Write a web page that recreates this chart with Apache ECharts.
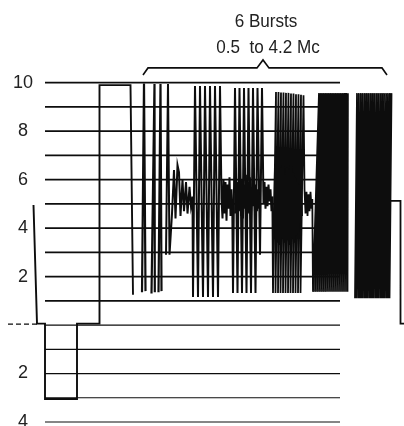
<!DOCTYPE html>
<html><head><meta charset="utf-8">
<script src="https://cdn.jsdelivr.net/npm/echarts/dist/echarts.min.js"></script>
<style>html,body{margin:0;padding:0;background:#fff}#c{width:404px;height:426px}</style>
</head><body><div id="c"></div><script>
// ---- data (time units along the line, signal level in IRE/10) ----
const tickValues = [10, 8, 6, 4, 2, -2, -4];
const tickLabels = ['10', '8', '6', '4', '2', '2', '4'];
const gridLevelsUpper = [10, 9, 8, 7, 6, 5, 4, 3, 2, 1];
const gridLevelsLower = [0, -1, -2, -3, -4];
const gridSpan = [45, 340];
const zeroLead = [[8, 0.04], [37, 0.04]];
const titleLines = ['6 Bursts', '0.5  to 4.2 Mc'];
const bracket = [[143, 10.32], [148, 10.61], [257, 10.61], [263, 10.94], [269, 10.61], [382, 10.61], [387, 10.32]];

const leadIn = [[33.5, 4.95], [37, 0.06], [45, 0.06], [45, -3.05], [77, -3.05], [77, 0.06], [99.5, 0.06], [99.5, 9.9], [130.5, 9.9], [133, 1.25]];
const b1s2 = [[142, 1.35], [144, 9.97], [145.5, 1.4]];
const b1s3 = [[151.5, 1.3], [154.5, 9.95], [154.8, 1.35]];
const b1s4 = [[158.5, 1.35], [160.5, 9.95], [161.5, 1.4]];
const b1s5 = [[166, 2.9], [168, 9.95], [169.5, 2.9]];
const wiggle1 = [[172, 4.6], [174, 6.4], [175.5, 4.4], [177.5, 6.6], [179, 6.3], [180.5, 4.5], [182.5, 6.0], [184, 4.7], [186, 5.9], [187.5, 4.6], [189.5, 5.7], [191, 4.9], [192.5, 5.3]];
const burst2 = [[193, 1.16], [195, 9.86], [198, 1.16], [200, 9.86], [203, 1.16], [205, 9.86], [208, 1.16], [210, 9.86], [213, 1.16], [215, 9.86], [218, 1.16], [220, 9.86]];
const noise2 = [[221.5, 5.2], [222.5, 4.4], [223.5, 6.0], [224.5, 4.6], [225.5, 5.9], [226.5, 4.3], [227.5, 5.8], [228.5, 4.8], [229.5, 6.1], [230.5, 4.5], [231.5, 5.6], [232.3, 4.8]];
const burst3 = [[233, 1.32], [235, 9.78], [237.5, 1.32], [239.5, 9.78], [242, 1.32], [244, 9.78], [246.5, 1.32], [248.5, 9.78], [251, 1.32], [253, 9.78], [255.5, 1.32], [257.5, 9.78], [260, 2.9], [262, 9.78]];
const noise3 = [[263.5, 5.0], [264.5, 5.9], [265.5, 4.8], [266.5, 5.7], [267.5, 4.9], [268.5, 5.8], [269.5, 5.1], [270.5, 5.6], [271.5, 4.7], [272.3, 5.3]];
const burst4 = [[273, 1.32], [276, 9.62], [275.5, 1.32], [278.5, 9.62], [278, 1.32], [281, 9.6], [280.5, 1.32], [283.5, 9.6], [283, 1.32], [286, 9.58], [285.5, 1.32], [288.5, 9.58], [288, 1.32], [291, 9.55], [290.5, 1.32], [293.5, 9.55], [293, 1.32], [296, 9.52], [295.5, 1.32], [298.5, 9.52], [298, 1.32], [301, 9.5], [300.5, 1.32], [303.5, 9.48]];
const noise4 = [[304.5, 5.6], [305.5, 4.6], [306.5, 5.5], [307.5, 4.5], [308.5, 5.4], [309.5, 4.7], [310.5, 5.5], [311.5, 4.8], [312.3, 5.2]];
const burst5 = [[313, 1.37], [319, 9.57], [315, 1.37], [320.7, 9.57], [317, 1.37], [322.4, 9.57], [319, 1.37], [324.1, 9.57], [321, 1.37], [325.8, 9.57], [323, 1.37], [327.5, 9.57], [325, 1.37], [329.2, 9.57], [327, 1.37], [330.9, 9.57], [329, 1.37], [332.6, 9.57], [331, 1.37], [334.3, 9.57], [333, 1.37], [336, 9.57], [335, 1.37], [337.7, 9.57], [337, 1.37], [339.4, 9.57], [339, 1.37], [341.1, 9.57], [341, 1.37], [342.8, 9.57], [343, 1.37], [344.5, 9.57], [345, 1.37], [346.2, 9.57], [347, 1.37], [347.9, 9.57], [347.5, 1.37]];
const burst6 = [[355, 1.11], [357, 9.57], [356.8, 1.11], [358.9, 9.57], [358.7, 1.11], [360.9, 9.57], [360.5, 1.11], [362.8, 9.57], [362.3, 1.11], [364.8, 9.57], [364.2, 1.11], [366.7, 9.57], [366, 1.11], [368.6, 9.57], [367.8, 1.11], [370.6, 9.57], [369.7, 1.11], [372.5, 9.57], [371.5, 1.11], [374.4, 9.57], [373.3, 1.11], [376.4, 9.57], [375.2, 1.11], [378.3, 9.57], [377, 1.11], [380.3, 9.57], [378.8, 1.11], [382.2, 9.57], [380.7, 1.11], [384.1, 9.57], [382.5, 1.11], [386.1, 9.57], [384.3, 1.11], [388, 9.57], [386.2, 1.11], [389.9, 9.57], [388, 1.11], [391.5, 9.57], [389.5, 1.11]];
const tail = [[390.5, 5.12], [400.5, 5.12], [400.5, 0.06], [404, 0.06]];
const midBlob3 = [[235, 4.6], [236, 6.1], [237, 4.4], [238, 5.9], [239, 4.7], [240, 6.2], [241, 4.5], [242, 6.0], [243, 4.4], [244, 5.8], [245, 4.8], [246, 6.2], [247, 4.5], [248, 5.9], [249, 4.6], [250, 6.1], [251, 4.4], [252, 5.7], [253, 4.9], [254, 6.0], [255, 4.5], [256, 5.8], [257, 4.7], [258, 5.6], [259, 4.8], [260, 5.4]];
const midBlob4 = [[274, 4.0], [275, 6.4], [276, 3.5], [277, 6.6], [278, 3.4], [279, 6.3], [280, 3.3], [281, 6.5], [282, 3.6], [283, 6.6], [284, 3.4], [285, 6.2], [286, 3.3], [287, 6.5], [288, 3.5], [289, 6.4], [290, 3.3], [291, 6.6], [292, 3.6], [293, 6.3], [294, 3.4], [295, 6.1], [296, 3.7], [297, 5.9], [298, 3.8], [299, 5.8], [300, 4.2], [301, 5.6], [302, 4.5]];

// ---- build ----
const INK = '#0d0d0d';
function ls(data, width, dashed) {
  return { type: 'line', data: data, symbol: 'none', showSymbol: false, silent: true, clip: false,
    lineStyle: { color: INK, width: width, type: dashed ? [5, 3] : 'solid', join: 'miter' } };
}
const series = [];
gridLevelsUpper.forEach(v => series.push(ls([[gridSpan[0], v], [gridSpan[1], v]], 1.7)));
gridLevelsLower.forEach(v => series.push(ls([[gridSpan[0], v], [gridSpan[1], v]], 1.2)));
series.push(ls(zeroLead, 1.2, true));
series.push(ls(bracket, 1.6));
series.push(ls(leadIn, 1.9));
series.push(ls(b1s2, 2.2));
series.push(ls(b1s3, 2.2));
series.push(ls(b1s4, 2.2));
series.push(ls([].concat(b1s5, wiggle1, burst2, noise2, burst3, noise3), 2.0));
series.push(ls([].concat(noise3.slice(-1), burst4, noise4, burst5), 1.8));
series.push(ls([].concat(burst6, tail), 1.8));
series.push(ls(midBlob3, 1.8));
series.push(ls(midBlob4, 2.0));

const chart = echarts.init(document.getElementById('c'), null, { renderer: 'canvas' });
chart.setOption({
  animation: false,
  backgroundColor: '#fff',
  grid: { left: 0, right: 0, top: 10, bottom: 4, containLabel: false, outerBoundsMode: 'none' },
  xAxis: { type: 'value', min: 0, max: 404, show: false },
  yAxis: {
    type: 'value', min: -4, max: 13, interval: 2,
    axisLine: { show: false }, axisTick: { show: false }, splitLine: { show: false },
    axisLabel: {
      inside: true, margin: 23, align: 'center', fontSize: 18, color: '#222',
      fontFamily: 'Liberation Sans, Arial, sans-serif',
      formatter: function (v) { const i = tickValues.indexOf(v); return i >= 0 ? tickLabels[i] : ''; }
    }
  },
  graphic: [
    { type: 'text', x: 266, y: 22, scaleX: 0.9, silent: true,
      style: { text: titleLines[0], textAlign: 'center', textVerticalAlign: 'middle', fontSize: 19, fontFamily: 'Liberation Sans, Arial, sans-serif', fill: '#222' } },
    { type: 'text', x: 268, y: 48, scaleX: 0.9, silent: true,
      style: { text: titleLines[1], textAlign: 'center', textVerticalAlign: 'middle', fontSize: 19, fontFamily: 'Liberation Sans, Arial, sans-serif', fill: '#222' } }
  ],
  series: series
});
</script></body></html>
